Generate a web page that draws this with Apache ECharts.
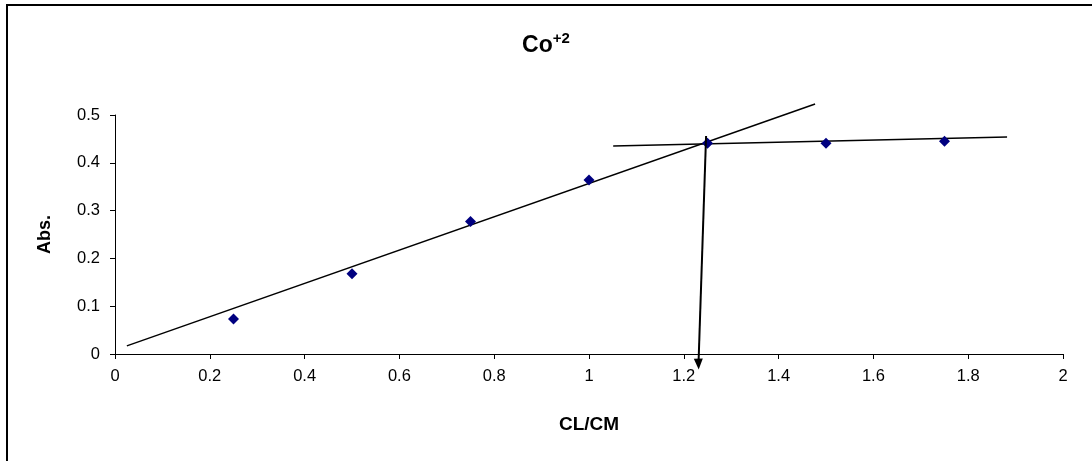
<!DOCTYPE html>
<html>
<head>
<meta charset="utf-8">
<script src="https://cdn.jsdelivr.net/npm/echarts@6/dist/echarts.min.js"></script>
<style>
  html, body { margin: 0; padding: 0; background: #fff; }
  #chart { width: 1092px; height: 461px; }
</style>
</head>
<body>
<div id="chart"></div>
<script>
// Mole-ratio measurements for Co(+2): absorbance against CL/CM
const ratios = [0.25, 0.5, 0.75, 1, 1.25, 1.5, 1.75];
const absorbance = [0.073, 0.168, 0.277, 0.364, 0.441, 0.441, 0.445];

// Hand-drawn guide lines: rising fit, plateau fit, and the drop to the x axis
const risingFit = [[0.025, 0.017], [1.477, 0.523]];
const plateauFit = [[1.051, 0.435], [1.882, 0.454]];
const dropLine = [[1.247, 0.456], [1.231, -0.021]];

const xTicks = { min: 0, max: 2, interval: 0.2 };
const yTicks = { min: 0, max: 0.5, interval: 0.1 };

const points = ratios.map((r, i) => [r, absorbance[i]]);
const FONT = 'Liberation Sans, Arial, sans-serif';

// Drop line: plain start, arrow head at the end
const dropData = dropLine.map((p, i) => ({
  value: p,
  symbol: i === dropLine.length - 1 ? 'triangle' : 'none',
  symbolSize: [9, 11],
  symbolRotate: 182
}));

const chart = echarts.init(document.getElementById('chart'), null, { renderer: 'canvas' });

chart.setOption({
  animation: false,
  backgroundColor: '#fff',
  title: {
    text: '{a|Co}{b|+2}',
    left: 'center',
    top: 26,
    textStyle: {
      rich: {
        a: { fontFamily: FONT, fontWeight: 'bold', fontSize: 23, color: '#000' },
        b: { fontFamily: FONT, fontWeight: 'bold', fontSize: 15, color: '#000', verticalAlign: 'top', padding: [0, 0, 14, 0] }
      }
    }
  },
  graphic: [{
    type: 'rect',
    shape: { x: 7, y: 5, width: 1200, height: 600 },
    style: { fill: 'none', stroke: '#000', lineWidth: 2 },
    silent: true
  }],
  grid: { left: 115, right: 29, top: 115, bottom: 107 },
  xAxis: {
    type: 'value',
    min: xTicks.min, max: xTicks.max, interval: xTicks.interval,
    name: 'CL/CM',
    nameLocation: 'middle',
    nameGap: 61,
    nameTextStyle: { fontFamily: FONT, fontWeight: 'bold', fontSize: 19, color: '#000' },
    axisLine: { show: true, lineStyle: { color: '#000', width: 1 } },
    axisTick: { show: true, length: 5, lineStyle: { color: '#000' } },
    axisLabel: { fontFamily: FONT, fontSize: 16.5, color: '#000', margin: 14 },
    splitLine: { show: false }
  },
  yAxis: {
    type: 'value',
    min: yTicks.min, max: yTicks.max, interval: yTicks.interval,
    name: 'Abs.',
    nameLocation: 'middle',
    nameGap: 61,
    nameTextStyle: { fontFamily: FONT, fontWeight: 'bold', fontSize: 18, color: '#000' },
    axisLine: { show: true, lineStyle: { color: '#000', width: 1 } },
    axisTick: { show: true, length: 5, lineStyle: { color: '#000' } },
    axisLabel: { fontFamily: FONT, fontSize: 16.5, color: '#000', margin: 15 },
    splitLine: { show: false }
  },
  series: [
    {
      type: 'line',
      data: risingFit,
      symbol: 'none',
      clip: false,
      lineStyle: { color: '#000', width: 1.5 },
      silent: true
    },
    {
      type: 'line',
      data: plateauFit,
      symbol: 'none',
      clip: false,
      lineStyle: { color: '#000', width: 1.5 },
      silent: true
    },
    {
      type: 'line',
      data: dropData,
      clip: false,
      showSymbol: true,
      lineStyle: { color: '#000', width: 2 },
      itemStyle: { color: '#000' },
      silent: true,
      z: 4
    },
    {
      type: 'scatter',
      data: points,
      symbol: 'diamond',
      symbolSize: 11,
      clip: false,
      itemStyle: { color: '#000080', opacity: 1 },
      z: 3
    }
  ]
});
</script>
</body>
</html>
